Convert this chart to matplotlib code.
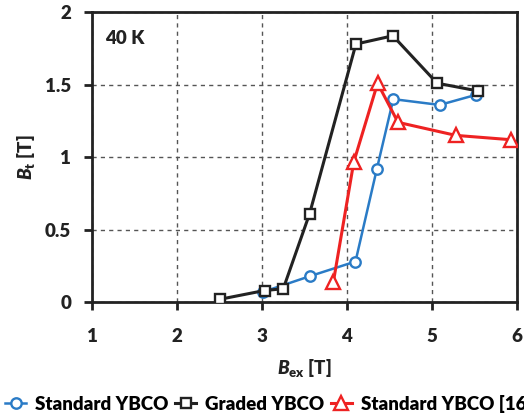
import matplotlib
matplotlib.use('Agg')
import matplotlib.pyplot as plt

#------------------------------------------------------------------------
# Data (B_ex [T] vs. B_t [T] at 40 K)
#------------------------------------------------------------------------
std_x   = [3.01, 3.57, 4.10, 4.35, 4.545, 5.09, 5.52]
std_y   = [0.07, 0.18, 0.28, 0.915, 1.40, 1.36, 1.43]

grad_x  = [2.51, 3.03, 3.25, 3.56, 4.105, 4.54, 5.06, 5.545]
grad_y  = [0.02, 0.08, 0.092, 0.61, 1.78, 1.837, 1.51, 1.456]

ref_x   = [3.84, 4.08, 4.36, 4.60, 5.28, 5.93]
ref_y   = [0.14, 0.967, 1.51, 1.24, 1.15, 1.12]

labels  = ['Standard YBCO', 'Graded YBCO', 'Standard YBCO [16]']
x_ticks = [1, 2, 3, 4, 5, 6]
y_ticks = [0, 0.5, 1, 1.5, 2]

W = 'heavy'
plt.rcParams['font.family'] = ['Lato', 'DejaVu Sans']
plt.rcParams['font.weight'] = W
plt.rcParams['mathtext.fontset'] = 'custom'
plt.rcParams['mathtext.rm'] = 'Lato:heavy'
plt.rcParams['mathtext.it'] = 'Lato:heavy:italic'
plt.rcParams['mathtext.bf'] = 'Lato:heavy'

fig = plt.figure(figsize=(5.24, 4.19), dpi=100)
ax  = fig.add_axes([0.1756, 0.279, 0.811, 0.692])

blue  = '#2a7bc6'
black = '#222222'
red   = '#ee2222'

ax.plot(std_x, std_y, color=blue, lw=1.8, marker='o', ms=7.5,
        mfc='white', mec=blue, mew=1.7, label=labels[0], zorder=3)
ax.plot(grad_x, grad_y, color=black, lw=2.2, marker='s', ms=7.5,
        mfc='white', mec=black, mew=1.7, label=labels[1], zorder=4)
ax.plot(ref_x, ref_y, color=red, lw=2.2, marker='^', ms=9.5,
        mfc='white', mec=red, mew=1.7, label=labels[2], zorder=5)

ax.set_xlim(1, 6)
ax.set_ylim(0, 2)
ax.set_xticks(x_ticks)
ax.set_yticks(y_ticks)
ax.set_xticklabels([str(v) for v in x_ticks])
ax.set_yticklabels(['0', '0.5', '1', '1.5', '2'])

ax.grid(True, color='#555555', lw=1.0, ls=(0, (3, 3)))
for s in ax.spines.values():
    s.set_linewidth(2.0)
    s.set_color(black)
ax.tick_params(direction='out', length=6, width=2, color=black,
               labelsize=13.5, labelcolor=black)
ax.tick_params(axis='x', pad=13)
ax.tick_params(axis='y', pad=9)

ax.set_xlabel(r'$B_{\mathrm{ex}}$ [T]', fontsize=13.5, color=black,
              fontweight=W, labelpad=8)
ax.set_ylabel(r'$B_{\mathrm{t}}$ [T]', fontsize=13.5, color=black,
              fontweight=W, labelpad=6)

ax.text(1.15, 1.82, '40 K', fontsize=13.5, fontweight=W,
        color=black, va='center', ha='left')

fig.legend(loc='center left', bbox_to_anchor=(-0.005, 0.036), ncol=3,
           frameon=False, fontsize=13.5, handlelength=1.15,
           handletextpad=0.45, columnspacing=0.35, borderaxespad=0)

plt.savefig('out.png', dpi=100)
plt.close()
